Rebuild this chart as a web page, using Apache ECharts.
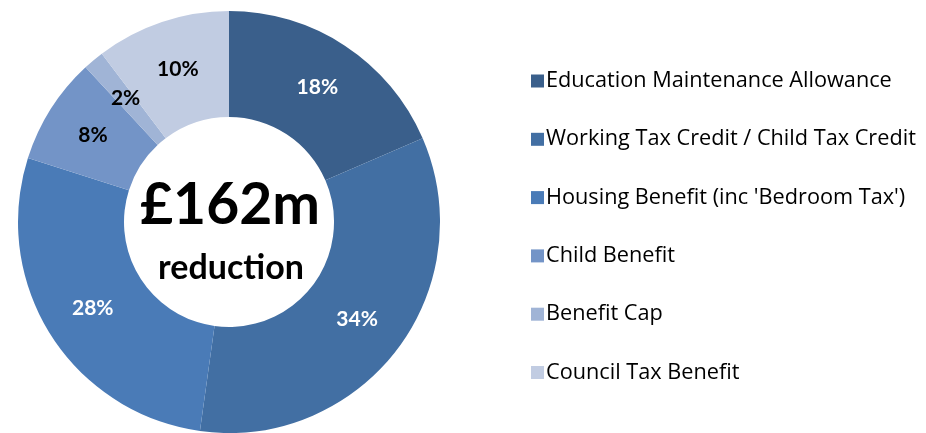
<!DOCTYPE html>
<html><head><meta charset="utf-8">
<script src="https://cdn.jsdelivr.net/npm/echarts@6/dist/echarts.min.js"></script>
<style>html,body{margin:0;padding:0;background:#fff}#c{width:926px;height:433px}</style>
</head><body><div id="c"></div>
<script>
const categories = ["Education Maintenance Allowance","Working Tax Credit / Child Tax Credit","Housing Benefit (inc 'Bedroom Tax')","Child Benefit","Benefit Cap","Council Tax Benefit"];
const shares = [18.5, 33.7, 27.7, 8.2, 1.6, 10.3];
const labels = ["18%","34%","28%","8%","2%","10%"];
const colors = ["#3A5F8B","#426FA3","#4A7BB7","#7394C7","#A0B4D6","#C1CCE2"];
const labelColors = ["#fff","#fff","#fff","#000","#000","#000"];
const centerTitle = "£162m";
const centerSub = "reduction";

const chart = echarts.init(document.getElementById('c'), null, {renderer:'canvas'});
chart.setOption({
  animation:false,
  backgroundColor:'#fff',
  legend:{
    orient:'vertical', left:526, top:65,
    itemWidth:13, itemHeight:13, itemGap:36.3,
    icon:'rect',
    textStyle:{fontFamily:'Open Sans', fontSize:21.7, color:'#000', padding:[0,0,0,-3]},
    data:categories
  },
  graphic:[
    {type:'text', silent:true,
     x:230, y:206, style:{text:centerTitle, font:'bold 57px Lato', fill:'#000', align:'center', verticalAlign:'middle'}},
    {type:'text', silent:true,
     x:231, y:268, style:{text:centerSub, font:'bold 34px Lato', fill:'#000', align:'center', verticalAlign:'middle'}}
  ],
  series:[{
    type:'pie', center:[229,222], radius:[105,211], startAngle:90, clockwise:true,
    avoidLabelOverlap:false,
    label:{position:'inside', fontFamily:'Lato', fontWeight:'bold', fontSize:21,
      formatter:p=>labels[p.dataIndex]},
    labelLine:{show:false},
    itemStyle:{borderWidth:0},
    data:categories.map((n,i)=>({name:n, value:shares[i], itemStyle:{color:colors[i]}, label:{color:labelColors[i]}}))
  }]
});
</script></body></html>
